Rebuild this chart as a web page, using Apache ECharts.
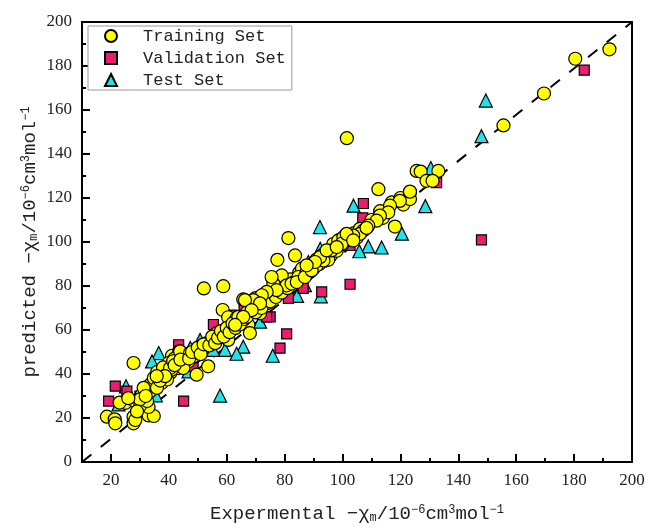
<!DOCTYPE html>
<html>
<head>
<meta charset="utf-8">
<script src="https://cdn.jsdelivr.net/npm/echarts@6/dist/echarts.min.js"></script>
<style>
  html, body { margin: 0; padding: 0; background: #fff; }
  #chart { width: 651px; height: 529px; }
</style>
</head>
<body>
<div id="chart"></div>
<script>
var dom = document.getElementById("chart");
var myChart = echarts.init(dom);

// axis ticks
var xMajor = [20, 40, 60, 80, 100, 120, 140, 160, 180, 200];
var xMinor = [10, 30, 50, 70, 90, 110, 130, 150, 170, 190];
var yMajor = [0, 20, 40, 60, 80, 100, 120, 140, 160, 180, 200];
var yMinor = [10, 30, 50, 70, 90, 110, 130, 150, 170, 190];

// y = x reference (drawn corner to corner as in the original)
var diagLine = [[10, 0], [200, 200]];

// Training Set  [experimental, predicted]
var trainData = [
    [18.6, 20.6], [21.3, 19.4], [21.5, 17.6], [27.8, 20.6], [27.8, 17.6], [28.4, 19.1],
    [33, 21.2], [34.8, 20.9], [33, 25], [25, 26.9], [28.2, 27.7], [30.1, 25.7],
    [32.5, 27.7], [30.7, 30.7], [33.6, 32.2], [33.6, 35.2], [34.8, 38.2], [37.6, 39],
    [38.8, 41.7], [40.5, 40.5], [41.1, 48.3], [43.6, 50.3], [44.5, 45.8], [43.4, 42.7],
    [46.8, 45.8], [49.7, 50.3], [49.1, 48], [45.7, 48], [27.8, 45], [37.6, 36],
    [35.9, 33.7], [31.3, 33.7], [39.9, 45], [39.4, 37.5],
    [36, 41], [37, 37], [38, 43], [39, 39.5], [41, 42], [42, 47], [30, 28.5], [32, 30],
    [29, 23], [23, 27], [26, 29],
    [52.1, 78.9], [58.8, 79.9], [58.6, 69.1], [60.5, 65.8], [65.7, 73.9], [68.6, 72.8],
    [70.9, 72.1], [73.2, 76.6], [73.8, 72.1], [71.5, 67.6], [68, 69.1], [67.5, 62.3],
    [65.7, 64.6], [63.4, 65.3], [62.8, 60.8], [59.4, 59.3], [60.5, 55.5], [56.5, 58.5],
    [54.8, 55.5], [51.9, 51.8], [50.2, 50.3], [48.5, 48], [46.2, 46.5], [43.9, 50.3],
    [40.4, 42.7], [38.7, 39], [35.8, 39], [53.6, 43.5], [49.6, 39.7], [61.1, 61.6],
    [58.2, 57], [53.1, 54], [47.3, 49.5], [45, 42.7], [41.5, 45.8],
    [42, 44], [44, 46.5], [47, 47], [48, 50], [50, 52], [51, 49], [52, 53.5], [54, 53],
    [55, 57], [56, 54], [57, 56.5], [58, 59.5], [59, 57], [60, 61], [61, 59], [62, 63],
    [63, 61], [64, 66], [64.5, 62.5], [66, 65], [67, 68], [67, 66], [69, 70], [70, 68],
    [70, 74.5], [72, 70], [74, 74], [75, 73], [76, 77], [77, 75], [78, 79], [79, 77],
    [80, 82], [81, 79], [82, 83], [83, 81.5], [85, 86], [86, 84], [86, 88], [88, 87],
    [89, 89.5], [90, 88], [91, 92], [92, 90], [93, 94], [94, 93], [95, 95], [96, 94],
    [97, 98], [98, 96], [99, 101], [100, 99], [101, 101], [102, 103], [104, 104], [105, 102],
    [106, 106], [110, 110], [113, 114], [114, 111], [117, 118], [120, 120], [121, 117],
    [81.3, 101.8], [77.5, 91.9], [83.6, 93.9], [79, 84.8], [76.1, 81.1], [84.7, 84.1],
    [87.6, 86.3], [91.1, 89.4], [96.8, 99.1], [98.5, 100.6], [95.1, 91.9], [80.7, 80.3],
    [77.2, 78.1], [73.8, 77.3], [72.1, 75.8], [69.2, 73.6], [66.3, 73.6], [71.5, 72.1],
    [68.6, 69], [65.7, 66], [62.9, 62.3], [82.4, 81.1], [84.2, 81.8], [87, 84.1],
    [89.3, 87.1], [93.4, 91.6], [75.5, 84.1], [68, 58.6],
    [112.4, 124], [123.3, 122.5], [123.3, 119.5], [119.8, 118.7], [116.4, 116.5], [115.8, 113.5],
    [112.9, 112], [111.8, 109.7], [108.9, 107.4], [118.1, 107], [107.2, 105.2], [106, 103.7],
    [103.7, 102.9], [100.3, 102.2], [99.7, 99.2], [96.2, 96.2], [92.2, 93.1], [90.5, 90.9],
    [87.6, 89.4], [125.6, 132.3], [101.4, 103.7], [108.3, 106.4], [103.7, 100.7], [94.5, 96.2],
    [98, 97.7], [101.5, 147.2], [127, 132], [133.1, 132.3], [129, 127.8], [131.1, 127.8],
    [123.3, 122.9], [155.6, 153], [169.6, 167.5], [180.4, 183.3], [192.2, 187.6]
];

// Validation Set
var validData = [
    [21.5, 34.5], [19.2, 27.7], [45.1, 27.7], [43.4, 53.3], [25.5, 32.2], [55.4, 62.5],
    [61.7, 66.8], [75, 66], [78.4, 51.8], [80.7, 58.2], [102.6, 80.8], [92.8, 77.3],
    [107.2, 117.5], [107, 111], [132.5, 127], [148, 101], [183.5, 178.1], [73.8, 66],
    [81.3, 74.4], [86.4, 78.9], [102.6, 98.4], [48.4, 43.5], [60, 58], [66, 70],
    [88, 88], [97, 97], [36, 37], [30, 30]
];

// Test Set
var testData = [
    [36.5, 49.5], [34.2, 45.7], [25.2, 34.4], [22.6, 26.2], [35.5, 30.3], [46.8, 41.2],
    [47.4, 51.8], [57.7, 30.2], [65.7, 52.4], [63.4, 49.2], [75.9, 48.3], [103.8, 116.5],
    [92.2, 106.8], [108.9, 98], [105.8, 95.8], [92.5, 75.3], [84.3, 75.5], [77.3, 83.4],
    [148, 148.1], [149.5, 164.3], [130.5, 133.6], [128.6, 116.3], [120.5, 103.8], [113.5, 97.5],
    [92.3, 96.9], [50.8, 55.5], [59.4, 51], [55.3, 51], [71.5, 63.8], [88.2, 90.9],
    [87, 80.4]
];

var serif = 'Liberation Serif';
var mono = 'Liberation Mono';

var nameRich = {
    sub: { fontSize: 12, fontFamily: mono, color: '#222', verticalAlign: 'bottom', padding: [8, 0, 0, 0] },
    sup: { fontSize: 12, fontFamily: mono, color: '#222', verticalAlign: 'top', padding: [0, 0, 8, 0] }
};

var option = {
    backgroundColor: '#fff',
    animation: false,
    grid: {
        left: 82,
        right: 19,
        top: 22,
        bottom: 66,
        show: true,
        borderColor: '#000',
        borderWidth: 2,
        backgroundColor: 'transparent'
    },
    legend: {
        orient: 'vertical',
        left: 88,
        top: 26,
        padding: [1, 6, 1, 16],
        itemGap: 4,
        itemWidth: 12,
        itemHeight: 12,
        borderColor: '#999',
        borderWidth: 1,
        backgroundColor: '#fff',
        textStyle: {
            fontFamily: mono,
            fontSize: 17,
            color: '#222',
            lineHeight: 18,
            padding: [0, 0, 0, 21]
        },
        data: ['Training Set', 'Validation Set', 'Test Set']
    },
    xAxis: [{
        type: 'value',
        min: 10,
        max: 200,
        name: 'Expermental −χ{sub|m}/10{sup|−6}cm{sup|3}mol{sup|−1}',
        nameLocation: 'middle',
        nameGap: 42,
        nameTextStyle: { fontFamily: mono, fontSize: 19, color: '#222', rich: nameRich },
        axisLine: { show: true, lineStyle: { color: '#000', width: 2 } },
        axisTick: { show: true, inside: true, length: 8, lineStyle: { color: '#000', width: 2 }, customValues: xMajor },
        axisLabel: { fontFamily: serif, fontSize: 17, color: '#222', margin: 10, customValues: xMajor },
        splitLine: { show: false }
    }, {
        type: 'value',
        min: 10,
        max: 200,
        position: 'bottom',
        axisLine: { show: false },
        axisTick: { show: true, inside: true, length: 4, lineStyle: { color: '#000', width: 2 }, customValues: xMinor },
        axisLabel: { show: false },
        splitLine: { show: false }
    }],
    yAxis: [{
        type: 'value',
        min: 0,
        max: 200,
        name: 'predicted −χ{sub|m}/10{sup|−6}cm{sup|3}mol{sup|−1}',
        nameLocation: 'middle',
        nameRotate: 90,
        nameGap: 42,
        nameMoveOverlap: false,
        nameTextStyle: { fontFamily: mono, fontSize: 19, color: '#222', rich: nameRich },
        axisLine: { show: true, lineStyle: { color: '#000', width: 2 } },
        axisTick: { show: true, inside: true, length: 8, lineStyle: { color: '#000', width: 2 }, customValues: yMajor },
        axisLabel: { fontFamily: serif, fontSize: 17, color: '#222', margin: 10, customValues: yMajor },
        splitLine: { show: false }
    }, {
        type: 'value',
        min: 0,
        max: 200,
        position: 'left',
        axisLine: { show: false },
        axisTick: { show: true, inside: true, length: 4, lineStyle: { color: '#000', width: 2 }, customValues: yMinor },
        axisLabel: { show: false },
        splitLine: { show: false }
    }],
    series: [{
        type: 'line',
        data: diagLine,
        symbol: 'none',
        silent: true,
        z: 1,
        lineStyle: { color: '#000', width: 2, type: [12, 12] }
    }, {
        name: 'Test Set',
        type: 'scatter',
        symbol: 'triangle',
        symbolSize: 13,
        z: 2,
        itemStyle: { color: '#22e3ec', borderColor: '#000', borderWidth: 1.2, opacity: 1 },
        data: testData
    }, {
        name: 'Validation Set',
        type: 'scatter',
        symbol: 'rect',
        symbolSize: 10,
        z: 3,
        itemStyle: { color: '#ec1d6e', borderColor: '#000', borderWidth: 1.2, opacity: 1 },
        data: validData
    }, {
        name: 'Training Set',
        type: 'scatter',
        symbol: 'circle',
        symbolSize: 13,
        z: 4,
        itemStyle: { color: '#ffff00', borderColor: '#000', borderWidth: 1.2, opacity: 1 },
        data: trainData
    }]
};

myChart.setOption(option);
window.addEventListener("resize", () => {
    myChart.resize();
});
</script>
</body>
</html>
